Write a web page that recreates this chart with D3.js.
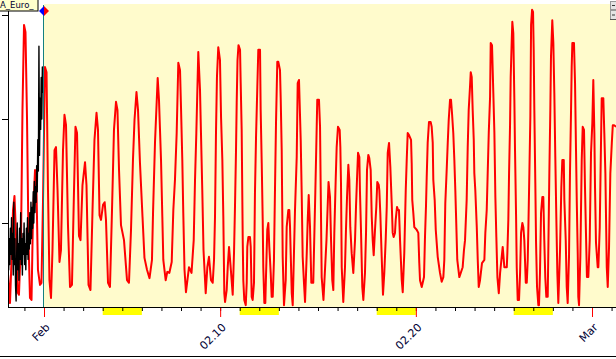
<!DOCTYPE html>
<html><head><meta charset="utf-8">
<script src="https://cdn.jsdelivr.net/npm/d3@7"></script>
<style>html,body{margin:0;padding:0;background:#fff;overflow:hidden}</style>
</head><body>
<svg id="c" width="616" height="359"></svg>
<script>
// ---- data: [hours since 2017-02-01 00:00 UTC, value] ----
const redJan = [[-44,10.0],[-41.7,4.6],[-39.9,12.5],[-38,22.5],[-36.2,25.2],[-34.3,17.7],[-32.5,6.7],[-30.7,6.2],[-28.2,16.7],[-26.4,41.7],[-24.5,58.1],[-22.7,56.7],[-20.8,39.8],[-19,16.7],[-17.2,5.6],[-15.3,5.2],[-13.5,21.5],[-11,30.2],[-9.2,26.3],[-7.4,11],[-4.9,8.1],[-3.1,8.5],[-1.2,24.4]];
const redWk1 = [[1.2,50],[3.1,49],[4.9,26.3],[6.7,9],[8.6,5.6],[10.4,14.8],[12.9,34],[14.7,34.6],[16.6,26.3],[19,12.5],[20.8,14.8],[23.3,34],[25.1,40.8],[27,38.8],[29.4,19.6],[31.9,7.7],[34.3,8.1],[36.8,26.3],[38.6,38.5],[40.5,37.3],[42.9,17.5],[44.8,16.7],[47.2,27.3],[50.3,31.7],[52.1,27.3],[54.6,8.1],[57,7.1],[59.5,22.5],[61.9,36],[64.4,41.2],[66.2,37.9],[68.1,21.5],[69.9,20.6],[72.4,23.5],[74.4,24],[76,20.6],[78.5,8.5],[80.9,7.7],[83.4,22.5],[85.8,37.9],[88.3,43.3],[90.1,41.7],[92,30.2],[94.4,19.6],[98.1,16.7],[101.8,9],[104.2,8.5],[106.7,18.7],[109.1,32.1],[111,39.8],[113.4,45.2],[115.3,41.7],[117.7,31.5],[120.8,21.2],[123.2,13.3],[126.3,11],[129.4,9.4],[132.4,12.9],[133.7,21.9],[136.1,35.4],[139.4,47.9],[141,43.7],[143.5,32.1],[145.1,21.2],[146.3,12.9],[149.2,9],[151.2,10.6],[153.7,10.4],[156.6,12.5],[158.6,22.5],[160.6,28.3],[162.7,37.3],[164.7,50.8],[166.8,49.4]];
const redWk2 = [[168,42.3],[169.6,32.1],[170.8,21.9],[172.3,11],[174.1,6.7],[177.8,11.5],[180.9,10.4],[183.6,16.7],[185.2,28.3],[186.8,37.3],[189.2,52.9],[191.3,45.6],[192.5,37.3],[194.1,26.3],[195.6,14.8],[198.3,6.5],[200.3,11.5],[202.3,13.5],[204.8,9],[206.9,8.5],[208.5,12.9],[209.7,21.2],[210.9,37.3],[212.1,48.1],[213.7,53.8],[215.8,51.3],[217.1,40.4],[218.7,32.1],[219.9,21.2],[221.1,6.5],[222,4.8],[224,7.1],[225.3,11.5],[226.9,15.4],[228.7,11.9],[231.4,6.2],[233,14.2],[234.2,23.1],[235.4,33.5],[236.3,43.1],[237.3,51.3],[238.5,54.2],[240.4,53.3],[241.2,46.9],[242.4,37.9],[243.7,16.7],[244.4,9],[245.6,5.2],[247.4,4.2],[248.6,8.5],[249.3,15.4],[250.6,17.3],[252.6,17.3],[253.5,15.4],[254.7,5.8],[255.9,5.2],[257.5,8.5],[258.7,25.8],[260,36.5],[261.6,46.2],[262.8,53.3],[264.9,53.3],[265.7,41.7],[267,31.5],[268.2,20.6],[268.9,11.5],[270.2,4.6],[271.4,4.6],[272.2,9.6],[273.8,18.7],[275.1,20],[276.3,15.4],[278,10.4],[279.2,5.8],[280.5,5.8],[282,12.9],[283.3,26.9],[284.5,39.2],[286.1,51],[287.3,51],[289.4,49.4],[290.3,43.7],[291.5,34],[292.7,13.5],[294.3,4.2],[296.4,9],[297.6,19.2],[299.6,22.5],[300.8,22.5],[301.7,19.2],[303.8,6.5],[305,4.2],[307.8,22.5],[309.9,32.7],[311.1,46.9],[312.7,47.5],[314.8,36],[316,25.8],[317.2,13.5],[318.8,8.5],[320.1,4.8],[322.2,14.2],[323.4,20.6],[324.6,25.4],[326.2,19.2],[327.8,8.5],[330.2,8.5],[331.1,14.8],[332.7,25.8],[333.9,34.6],[335.1,43.7]];
const redWk3 = [[337.2,43.7],[338.5,38.5],[339.3,26.9],[340.5,9.6],[342.7,5.2],[346.4,16.7],[348.9,27.9],[350.7,25],[352,16.7],[353.5,9],[354.8,7.1],[356,18.1],[357.7,28.3],[358.9,34.6],[360.5,38.5],[362.6,37.9],[363.4,34.6],[364.2,27.7],[365.1,11.5],[367,4.8],[369.1,11.5],[370.3,18.7],[371.6,25],[373.2,31.2],[374.4,28.3],[375.6,19.2],[377.3,14.2],[379.3,10.4],[381.4,16.7],[382.6,23.1],[383.8,28.3],[385.1,33.5],[386.7,32.7],[387.5,25.8],[388.7,18.7],[390.3,7.7],[391.6,5.2],[393.6,10.4],[394.9,18.1],[396.1,30.2],[397.7,33.1],[398.9,32.5],[400.6,30.2],[401.9,21.2],[403.1,16.7],[404.3,13.8],[405.9,18.7],[407.5,23.1],[408.7,27.9],[410.5,27.3],[411.2,26.3],[412.4,21.9],[414.1,13.5],[415.7,6.2],[417.3,10.4],[419,16.7],[420.3,23.1],[421.5,33.5],[423.1,35.4],[424.7,30.8],[426.4,23.8],[427.6,18.1],[428.8,17.3],[430.4,18.1],[431.3,20.6],[432.9,23.1],[434.1,22.5],[435.3,22.5],[436.6,16.7],[438.7,9],[439.9,6.7],[441.8,14.2],[443.6,26.3],[444.8,32.1],[446,37.3],[447.6,36.9],[450.1,36],[450.9,31.5],[451.6,24.4],[452.9,21.9],[454.1,19.2],[457,18.7],[459,18.1],[460.2,12.3],[461.1,9],[463.2,7.7],[466,9.6],[467.2,17.3],[468.4,23.1],[469.3,28.8],[470.5,35.4],[472.1,39.4],[474.2,39.4],[475.4,38.5],[476.7,35.4],[477.4,28.3],[479.1,24.4],[480.4,18.7],[482.8,13.5],[485.6,10.4],[487.7,8.7],[489.7,9.6],[490.9,12.9],[492.1,23.8],[493.8,30.2],[495.1,35.4],[496.3,39.8],[497.9,43.7],[499.1,43.7],[500.3,41.2],[501.9,37.3],[503.2,32.1]];
const redWk4 = [[504.4,26.3],[505.2,21.9],[506.8,12.9],[509.3,9.6],[513.4,11.5],[515,14.8],[516.3,16.7],[518.3,24.4],[519.6,34.6],[520.8,41.7],[522.4,46.2],[523.3,49],[524.5,48.1],[525.7,41.7],[527,36],[527.7,29.6],[528.9,26.3],[530.7,19.2],[531.9,12.9],[533.1,7.7],[534.7,9],[537.1,12.3],[540,12.9],[541.2,18.1],[542.9,22.5],[544.1,29.6],[545.4,37.3],[547,44.2],[547.8,54.6],[549.4,54.2],[551,45],[552.3,37.3],[553.5,25],[554.7,17.3],[556,9.6],[557.7,6.5],[559.3,10.4],[562.5,15.4],[564.5,11.5],[567.5,11.5],[568.2,14.2],[569.4,20.6],[570.3,29.6],[571.5,38.8],[572.3,48.1],[573.6,55.2],[574.3,58.7],[575.5,56.5],[576.8,43.7],[577.6,34],[578.9,21.2],[579.7,11.5],[580.9,5.2],[582.5,5.2],[583.8,10.4],[585,18.1],[586.6,20],[587.8,19.2],[589,16.7],[590.8,8.5],[592,8.5],[593.2,12.9],[594,19.2],[595.2,29.6],[596.4,40.4],[597.3,58.1],[598.5,61],[599.7,60.6],[600.5,53.3],[601.3,41.7],[602.5,27.7],[603.4,16.2],[604.6,7.7],[606.2,4.2],[607,4.2],[608.2,10.4],[609.5,21.9],[611.1,25],[612.3,25],[613.5,16.7],[614.7,9.6],[616,5.8],[617.7,5.8],[618.4,14.2],[619.7,29.6],[620.9,41.7],[621.7,51.9],[623.3,59],[624.6,54.6],[625.8,45],[627,32.7],[628.3,20.6],[629.5,10.4],[630.7,4.6],[632.8,14.8],[634.4,26.9],[635.6,32.1],[637.4,32.1],[638.1,24.4],[639.8,16.7],[641,7.7],[642.2,4.6],[643.8,13.5],[645,29.6],[646.3,41.7],[647.1,50],[647.9,54.6],[649.9,54.6],[651.2,46.9],[652.4,34],[653.3,24.4],[654.5,14.2],[655.2,5.8],[656.1,4.2],[657.7,13.5],[659.4,32.1],[660.6,38.5],[662.2,37.9],[663.4,26.9],[664.6,18.1],[665.8,9.6],[667.5,9.6],[669.2,16.7],[670.8,33.5],[672.4,39.2],[673.6,47.5],[674.9,37.3],[675.7,26.9],[676.9,16.2],[679,11.5],[679.8,11.5],[681.5,19.2],[683.1,36],[683.9,44],[685.9,44],[687.1,37.3],[688.4,29.6],[690.1,11.5],[691.3,7.7],[692.9,15.4],[694.5,29.6],[696.3,35.4],[697.5,38.8],[699.1,38.8],[701.6,38.5]];
const blackPts = [[-44,15],[-43.3,11],[-42.6,17],[-41.9,12],[-41.2,19],[-40.5,14],[-39.8,21],[-39.1,13],[-38.4,18],[-37.7,10],[-37,24],[-36.3,12],[-35.6,17],[-34.9,8],[-34.2,5],[-33.5,14],[-32.8,20],[-32.1,11],[-31.4,16],[-30.7,9],[-30,19],[-29.3,13],[-28.6,22],[-27.9,12],[-27.2,17],[-26.5,10],[-25.8,18],[-25.1,14],[-24.4,20],[-23.7,12],[-23,16],[-22.3,11],[-21.6,19],[-20.9,14],[-20.2,21],[-19.5,13],[-18.8,18],[-18.1,15],[-17.4,22],[-16.7,16],[-16,24],[-15.3,17],[-14.6,23],[-13.9,19],[-13.2,26],[-12.5,20],[-11.8,28],[-11.1,22],[-10.4,27],[-9.7,24],[-9,31],[-8.3,26],[-7.6,36],[-6.9,30],[-6.2,54],[-5.5,33],[-4.8,44],[-4.1,38],[-3.4,48],[-2.7,40],[-2,50],[-1.3,45]];
const weekendStarts = ["2017-02-04","2017-02-11","2017-02-18","2017-02-25"];
const majorTicks = ["2017-02-01","2017-02-10","2017-02-20","2017-03-01"];
const majorLabels = ["Feb","02.10","02.20","Mar"];
const yTicks = [20,40,60];
const seriesLabel = "A_Euro_";
const cursorHour = 0;

// ---- layout ----
const L = 8, R = 616, T = 4, B = 307;
const t0 = Date.UTC(2017,1,1);
const toDate = h => new Date(t0 + h*3600e3);
const parse = s => new Date(s + "T00:00:00Z");
const x = d3.scaleUtc().domain([parse("2017-02-01"), parse("2017-03-01")]).range([44, 592]);
const y = d3.scaleLinear().domain([0, 60]).range([327, 15]);

const svg = d3.select("#c");
svg.append("rect").attr("width",616).attr("height",359).attr("fill","#fff");
const cx = x(toDate(cursorHour));
svg.append("rect").attr("x",cx).attr("y",T).attr("width",R-cx).attr("height",B-T).attr("fill","#FFFBCC");

svg.append("defs").append("clipPath").attr("id","clip")
  .append("rect").attr("x",L+1).attr("y",T).attr("width",R-L).attr("height",B-T);

const line = d3.line().x(d => x(toDate(d[0]))).y(d => y(d[1]));
const red = [].concat(redJan, redWk1, redWk2, redWk3, redWk4);
const g = svg.append("g").attr("clip-path","url(#clip)");
g.append("path").datum(red).attr("d",line).attr("fill","none").attr("stroke","#FF0000")
  .attr("stroke-width",2).attr("stroke-linejoin","round");
g.append("path").datum(blackPts).attr("d",line).attr("fill","none").attr("stroke","#000")
  .attr("stroke-width",1.4).attr("stroke-linejoin","round");

// weekend bars
svg.selectAll("rect.wk").data(weekendStarts).join("rect").attr("class","wk")
  .attr("x", d => x(parse(d))).attr("y", B+0.5)
  .attr("width", d => x(d3.utcDay.offset(parse(d),2)) - x(parse(d)))
  .attr("height",7.5).attr("fill","#FFFF00");

// x axis minor ticks
const days = d3.utcDay.range(parse("2017-01-31"), parse("2017-03-03"));
const axMinor = svg.append("g").attr("transform",`translate(0,${B})`)
  .call(d3.axisBottom(x).tickValues(days).tickSize(4).tickFormat(""));
axMinor.select(".domain").remove();
axMinor.selectAll("line").attr("stroke","#000");

const axMajor = svg.append("g").attr("transform",`translate(0,${B})`)
  .call(d3.axisBottom(x).tickValues(majorTicks.map(parse)).tickSize(10)
    .tickFormat((d,i) => majorLabels[i]));
axMajor.select(".domain").remove();
axMajor.selectAll("line").attr("stroke","#FF0000");
axMajor.selectAll("text").attr("x",0).attr("y",0).attr("dy",0)
  .attr("text-anchor","end").attr("transform","translate(6,21) rotate(-45)")
  .attr("fill","#000033").style("font-family","'DejaVu Sans', Verdana, sans-serif").style("font-size","11px");

// axis lines
svg.append("line").attr("x1",L).attr("x2",R).attr("y1",B+0.5).attr("y2",B+0.5).attr("stroke","#000");
svg.append("line").attr("x1",L+0.5).attr("x2",L+0.5).attr("y1",11).attr("y2",B).attr("stroke","#000");

// y axis ticks
const ay = svg.append("g").attr("transform",`translate(${L},0)`)
  .call(d3.axisLeft(y).tickValues(yTicks).tickSize(6).tickFormat(""));
ay.select(".domain").remove();
ay.selectAll("line").attr("stroke","#000");

// cursor
svg.append("line").attr("x1",cx-0.5).attr("x2",cx-0.5).attr("y1",5).attr("y2",B).attr("stroke","#138080").attr("stroke-width",1);
svg.append("path").attr("d",`M${cx-5},11 L${cx},6 L${cx},16 Z`).attr("fill","#0000FF");
svg.append("path").attr("d",`M${cx},6 L${cx+5},11 L${cx},16 Z`).attr("fill","#FF0000");

// series label box
svg.append("rect").attr("x",-1).attr("y",-1).attr("width",39).attr("height",12)
  .attr("fill","#FFFFCC").attr("stroke","#000");
svg.append("text").attr("x",0).attr("y",7.5).text(seriesLabel)
  .attr("fill","#000033").style("font-family","'DejaVu Sans', Verdana, sans-serif").style("font-size","8.5px");

// top-right small buttons
[[1,8],[10,9]].forEach(([yy,hh]) => {
  svg.append("rect").attr("x",610.5).attr("y",yy+0.5).attr("width",6).attr("height",hh)
    .attr("fill","#E4E4E4").attr("stroke","#999");
  svg.append("line").attr("x1",612).attr("x2",615).attr("y1",yy+hh/2+0.5).attr("y2",yy+hh/2+0.5).attr("stroke","#333");
});
svg.append("line").attr("x1",610).attr("x2",616).attr("y1",19.5).attr("y2",19.5).attr("stroke","#555");

// bottom rule
svg.append("line").attr("x1",0).attr("x2",616).attr("y1",356.5).attr("y2",356.5).attr("stroke","#000");
</script>
</body></html>
